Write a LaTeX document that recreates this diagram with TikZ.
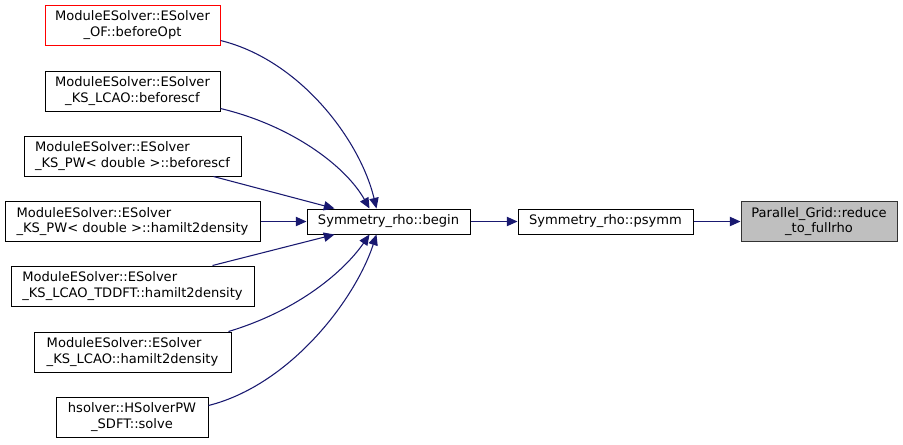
\documentclass[tikz,border=0pt]{standalone}
\usepackage{fontspec}
\setmainfont{DejaVu Sans}
\usetikzlibrary{arrows.meta,calc}
\definecolor{edgeblue}{HTML}{191970}
\begin{document}
\begin{tikzpicture}[x=0.75pt,y=-0.75pt,
  box/.style 2 args={draw=black, line width=0.75pt, fill=white, inner sep=0pt,
    minimum width=#1*0.75pt, minimum height=#2*0.75pt,
    font=\fontsize{9.8}{11.6}\selectfont, align=center},
  lbox/.style 2 args={box={#1}{#2}, align=left},
  edge/.style={draw=edgeblue, line width=0.8pt, -{Triangle[length=8pt,width=7pt]}}
]
\useasboundingbox (0,0) rectangle (903,444);

\node[box={175}{40}, draw=red] (c1) at (132.5,25) {ModuleESolver::ESolver\\\_OF::beforeOpt};
\node[box={175}{40}] (c2) at (132.5,91) {ModuleESolver::ESolver\\\_KS\_LCAO::beforescf};
\node[lbox={217}{40}] (c3) at (132.5,156) {ModuleESolver::ESolver\\\_KS\_PW< double >::beforescf};
\node[lbox={255}{40}] (c4) at (132.5,221.5) {ModuleESolver::ESolver\\\_KS\_PW< double >::hamilt2density};
\node[lbox={243}{40}] (c5) at (132.5,286) {ModuleESolver::ESolver\\\_KS\_LCAO\_TDDFT::hamilt2density};
\node[lbox={197}{40}] (c6) at (132.5,352) {ModuleESolver::ESolver\\\_KS\_LCAO::hamilt2density};
\node[box={152}{40}] (c7) at (132,417) {hsolver::HSolverPW\\\_SDFT::solve};

\node[box={163}{25}] (begin) at (388.5,221.5) {Symmetry\_rho::begin};
\node[box={175}{25}] (psymm) at (605.5,221.5) {Symmetry\_rho::psymm};
\node[box={156}{40}, fill={rgb,255:red,191;green,191;blue,191}, draw=black!80] (target) at (819,221.5) {Parallel\_Grid::reduce\\\_to\_fullrho};

\draw[edge] ($(c1.south east)+(0,-5)$) .. controls (300,60) and (360,140) .. ($(begin.north west)+(70,0)$);
\draw[edge] ($(c2.south east)+(0,-3)$) .. controls (290,125) and (345,165) .. ($(begin.north west)+(63,0)$);
\draw[edge] ($(c3.south east)+(-28,0)$) -- ($(begin.north west)+(28,0)$);
\draw[edge] (c4.east) -- (begin.west);
\draw[edge] ($(c5.north east)+(-42,0)$) -- ($(begin.south west)+(28,0)$);
\draw[edge] ($(c6.north east)+(-3,0)$) .. controls (300,310) and (345,270) .. ($(begin.south west)+(63,0)$);
\draw[edge] ($(c7.north east)+(0,9)$) .. controls (290,385) and (355,300) .. ($(begin.south west)+(70,0)$);
\draw[edge] (begin.east) -- (psymm.west);
\draw[edge] (psymm.east) -- (target.west);
\end{tikzpicture}
\end{document}
